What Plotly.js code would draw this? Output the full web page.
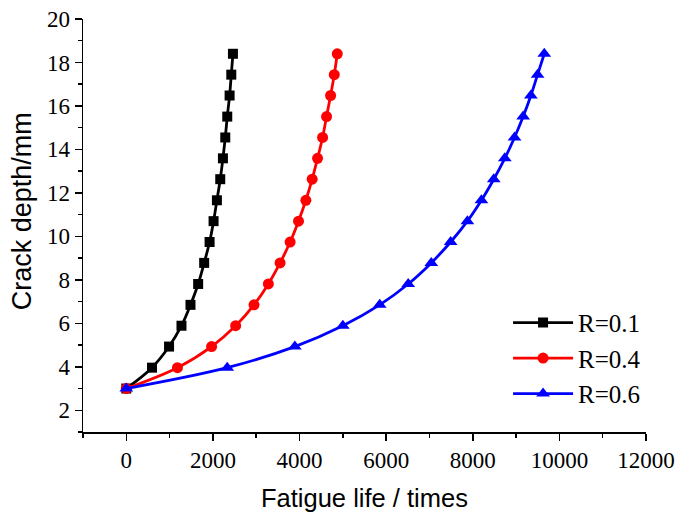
<!DOCTYPE html>
<html>
<head>
<meta charset="utf-8">
<script src="https://cdn.plot.ly/plotly-3.0.1.min.js"></script>
<style>html,body{margin:0;padding:0;background:#fff;}#chart{width:680px;height:513px;}</style>
</head>
<body>
<div id="chart"></div>
<script>
const depth = [3, 3.96, 4.93, 5.89, 6.85, 7.81, 8.78, 9.74, 10.7, 11.66, 12.63, 13.59, 14.55, 15.51, 16.48, 17.44, 18.4];
const lifeR01 = [0, 593, 987, 1274, 1482, 1659, 1798, 1923, 2015, 2092, 2169, 2231, 2285, 2331, 2385, 2424, 2462];
const lifeR04 = [0, 1181, 1969, 2525, 2949, 3280, 3551, 3783, 3976, 4146, 4292, 4416, 4532, 4624, 4717, 4802, 4871];
const lifeR06 = [0, 2330, 3891, 5000, 5851, 6509, 7042, 7489, 7876, 8200, 8485, 8740, 8964, 9164, 9342, 9497, 9651];
const seriesNames = ['R=0.1', 'R=0.4', 'R=0.6'];
const xTitle = 'Fatigue life / times';
const yTitle = 'Crack depth/mm';

const traces = [
  {x: lifeR01, y: depth, name: seriesNames[0], mode: 'lines+markers',
   line: {color: '#000000', width: 2.8, shape: 'spline'},
   marker: {symbol: 'square', size: 10, color: '#000000'}},
  {x: lifeR04, y: depth, name: seriesNames[1], mode: 'lines+markers',
   line: {color: '#ff0000', width: 2.8, shape: 'spline'},
   marker: {symbol: 'circle', size: 11, color: '#ff0000'}},
  {x: lifeR06, y: depth, name: seriesNames[2], mode: 'lines+markers',
   line: {color: '#0000ff', width: 2.8, shape: 'spline'},
   marker: {symbol: 'triangle-up', size: 12, color: '#0000ff'}}
];

const tickFont = {family: 'Liberation Serif, Times New Roman, serif', size: 23, color: '#000'};
const legendFont = {family: 'Liberation Serif, Times New Roman, serif', size: 25, color: '#000'};

const layout = {
  width: 680, height: 513,
  margin: {l: 83, r: 34, t: 19, b: 81},
  paper_bgcolor: '#fff', plot_bgcolor: '#fff',
  showlegend: true,
  legend: {x: 0.755, y: 0.32, xanchor: 'left', yanchor: 'top',
    font: legendFont, bgcolor: 'rgba(0,0,0,0)', itemwidth: 60, tracegroupgap: 0},
  xaxis: {
    range: [-1000, 12000], tick0: 0, dtick: 2000, tickformat: 'd',
    showgrid: false, zeroline: false,
    showline: true, linecolor: '#000', linewidth: 1.5,
    ticks: 'outside', ticklen: 7, tickwidth: 1.5, tickcolor: '#000',
    minor: {dtick: 1000, ticks: 'outside', ticklen: 4, tickwidth: 1.5, tickcolor: '#000', showgrid: false},
    tickfont: tickFont
  },
  yaxis: {
    range: [1, 20], tick0: 0, dtick: 2,
    showgrid: false, zeroline: false,
    showline: true, linecolor: '#000', linewidth: 1.5,
    ticks: 'outside', ticklen: 7, tickwidth: 1.5, tickcolor: '#000',
    minor: {dtick: 1, ticks: 'outside', ticklen: 4, tickwidth: 1.5, tickcolor: '#000', showgrid: false},
    tickfont: tickFont
  },
  annotations: [
    {text: xTitle, xref: 'paper', yref: 'paper', x: 0.5, y: -0.161, xanchor: 'center', yanchor: 'middle',
     showarrow: false, font: {family: 'Liberation Sans, Arial, sans-serif', size: 25.5, color: '#000'}},
    {text: yTitle, xref: 'paper', yref: 'paper', x: -0.107, y: 0.534, xanchor: 'center', yanchor: 'middle',
     textangle: -90, showarrow: false, font: {family: 'Liberation Sans, Arial, sans-serif', size: 27, color: '#000'}}
  ]
};

Plotly.newPlot('chart', traces, layout, {displayModeBar: false, staticPlot: true});
</script>
</body>
</html>
